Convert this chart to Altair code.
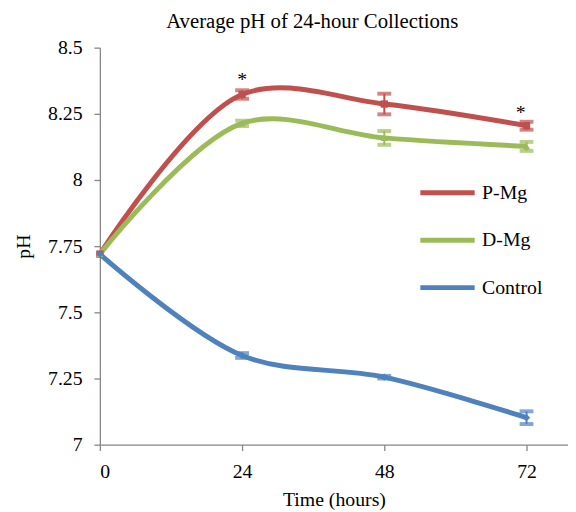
import altair as alt
import pandas as pd

times = [0, 24, 48, 72]
series = ["P-Mg", "D-Mg", "Control"]
pmg = [7.72, 8.323, 8.287, 8.205]
dmg = [7.72, 8.214, 8.159, 8.127]
ctrl = [7.72, 7.337, 7.255, 7.102]
pmg_err = [0.0, 0.016, 0.039, 0.015]
dmg_err = [0.0, 0.010, 0.026, 0.017]
ctrl_err = [0.0, 0.009, 0.005, 0.024]
star_x = [24, 71]
star_y = [8.376, 8.252]
colors = ["#C0504D", "#9BBB59", "#4F81BD"]
shapes = ["square", "triangle-up", "diamond"]
y_ticks = [7, 7.25, 7.5, 7.75, 8, 8.25, 8.5]
x_ticks = [0, 24, 48, 72]

rows = []
for name, vals, errs in zip(series, [pmg, dmg, ctrl], [pmg_err, dmg_err, ctrl_err]):
    for t, v, e in zip(times, vals, errs):
        rows.append({"t": t, "pH": v, "lo": v - e, "hi": v + e, "series": name,
                     "mk": name + " ", "err": e})
df = pd.DataFrame(rows)
stars = pd.DataFrame({"t": star_x, "pH": star_y, "s": ["*"] * len(star_x)})

FONT = "Liberation Serif"
xs = alt.Scale(domain=[0, 79], nice=False, zero=False)
ys = alt.Scale(domain=[7, 8.5], nice=False, zero=False)
cs = alt.Scale(domain=series, range=colors)

x_axis = alt.Axis(values=x_ticks, grid=False, tickSize=6, labelPadding=11, titlePadding=9)
y_axis = alt.Axis(values=y_ticks, grid=False, format=".3~g", tickSize=6,
                  labelPadding=12, titlePadding=14)


def X(f):
    return alt.X(f, scale=xs, title="Time (hours)", axis=x_axis)


def Y(f):
    return alt.Y(f, scale=ys, title="pH", axis=y_axis)


base = alt.Chart(df)

lines = base.mark_line(interpolate="catmull-rom", strokeWidth=5).encode(
    x=X("t:Q"), y=Y("pH:Q"),
    color=alt.Color("series:N", scale=cs, sort=series,
                    legend=alt.Legend(title=None, orient="none", legendX=322, legendY=117,
                                      symbolType="stroke", symbolSize=3025,
                                      symbolStrokeWidth=5, labelFont=FONT,
                                      labelFontSize=20, labelColor="black",
                                      labelOffset=5, rowPadding=8, padding=0)),
    detail="series:N",
)

mk_domain = [s + " " for s in series]
pts = base.mark_point(filled=True, opacity=1).encode(
    x=X("t:Q"), y=Y("pH:Q"),
    fill=alt.Fill("mk:N", scale=alt.Scale(domain=mk_domain, range=colors), legend=None),
    shape=alt.Shape("mk:N", scale=alt.Scale(domain=mk_domain, range=shapes), legend=None),
    size=alt.value(55),
    strokeWidth=alt.value(0),
)

errdf = base.transform_filter("datum.err > 0")
err_color = alt.Stroke("mk:N", scale=alt.Scale(domain=mk_domain, range=colors), legend=None)
rules = errdf.mark_rule(strokeWidth=2).encode(
    x=X("t:Q"), y=Y("lo:Q"), y2="hi:Q", stroke=err_color,
)
cap_lo = errdf.mark_tick(orient="horizontal", size=12, thickness=2, filled=False).encode(
    x=X("t:Q"), y=Y("lo:Q"), stroke=err_color, strokeWidth=alt.value(2))
cap_hi = errdf.mark_tick(orient="horizontal", size=12, thickness=2, filled=False).encode(
    x=X("t:Q"), y=Y("hi:Q"), stroke=err_color, strokeWidth=alt.value(2))

star_text = alt.Chart(stars).mark_text(font=FONT, fontSize=20, color="black",
                                       baseline="middle").encode(
    x=X("t:Q"), y=Y("pH:Q"), text="s:N")

chart = alt.layer(lines, rules, cap_lo, cap_hi, pts, star_text).properties(
    width=474, height=402,
    title=alt.TitleParams("Average pH of 24-hour Collections", font=FONT, fontSize=21,
                          fontWeight="normal", color="black", anchor="middle", dx=-22,
                          offset=6),
    autosize=alt.AutoSizeParams(type="none"),
    padding={"left": 93, "top": 37, "right": 0, "bottom": 64},
    background="white",
).configure_view(stroke=None).configure_axis(
    labelFont=FONT, labelFontSize=20, labelColor="black",
    titleFont=FONT, titleFontSize=20, titleFontWeight="normal", titleColor="black",
    domainColor="#868686", tickColor="#868686", domainWidth=1.3, tickWidth=1.3,
)

chart.save("out.html", embed_options={"renderer": "svg", "actions": False})
